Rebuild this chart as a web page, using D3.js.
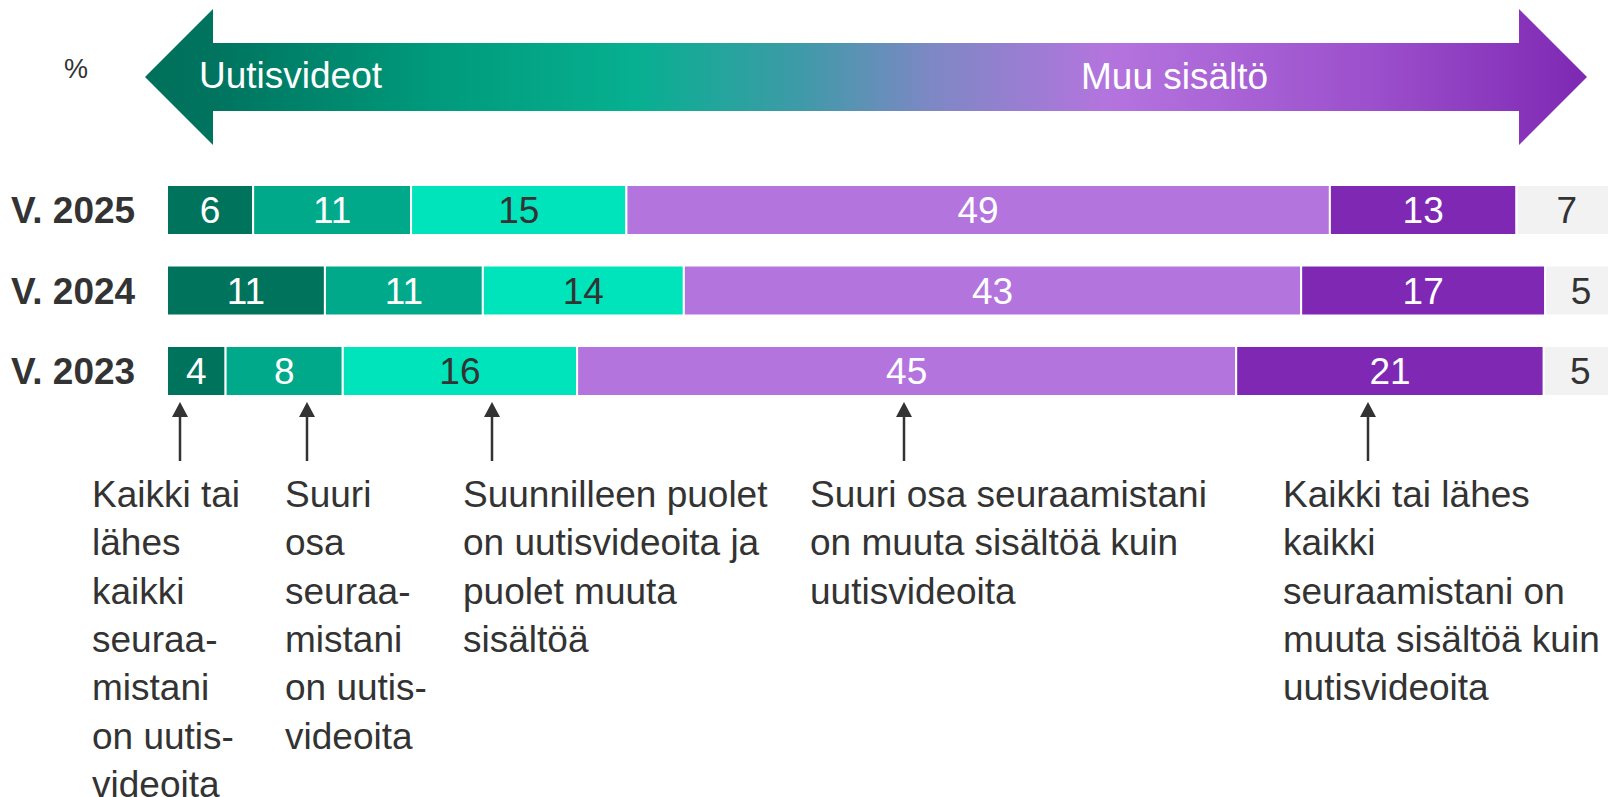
<!DOCTYPE html>
<html lang="fi">
<head>
<meta charset="utf-8">
<title>Uutisvideot vs. muu sisältö</title>
<script src="https://cdn.jsdelivr.net/npm/d3@7"></script>
<style>
  html, body { margin: 0; padding: 0; background: #fff; }
  svg { display: block; font-family: "Liberation Sans", Arial, Helvetica, sans-serif; }
</style>
</head>
<body>
<svg id="chart" width="1608" height="797"></svg>
<script>
// Survey years (rows, top to bottom)
const years = ["V. 2025", "V. 2024", "V. 2023"];

// Answer categories, from "all news videos" to "all other content"
const categories = [
  "Kaikki tai lähes kaikki seuraamistani on uutisvideoita",
  "Suuri osa seuraamistani on uutisvideoita",
  "Suunnilleen puolet on uutisvideoita ja puolet muuta sisältöä",
  "Suuri osa seuraamistani on muuta sisältöä kuin uutisvideoita",
  "Kaikki tai lähes kaikki seuraamistani on muuta sisältöä kuin uutisvideoita",
  "En osaa sanoa"
];

// Shares (%) per category, one value per year in the order of `years`
const allNews     = [6, 11, 4];
const mostlyNews  = [11, 11, 8];
const halfHalf    = [15, 14, 16];
const mostlyOther = [49, 43, 45];
const allOther    = [13, 17, 21];
const cannotSay   = [7, 5, 5];

// Annotation text under the bars, one block per category (line breaks as shown)
const noteLines = [
  ["Kaikki tai", "lähes", "kaikki", "seuraa-", "mistani", "on uutis-", "videoita"],
  ["Suuri", "osa", "seuraa-", "mistani", "on uutis-", "videoita"],
  ["Suunnilleen puolet", "on uutisvideoita ja", "puolet muuta", "sisältöä"],
  ["Suuri osa seuraamistani", "on muuta sisältöä kuin", "uutisvideoita"],
  ["Kaikki tai lähes", "kaikki", "seuraamistani on", "muuta sisältöä kuin", "uutisvideoita"]
];

const arrowLeftLabel = "Uutisvideot";
const arrowRightLabel = "Muu sisältö";
const unitLabel = "%";

// ---- styling / layout ----
const segColors   = ["#00735c", "#00a98a", "#00e4bc", "#b474de", "#7e28b3", "#f2f2f2"];
const labelColors = ["#ffffff", "#ffffff", "#333333", "#ffffff", "#ffffff", "#333333"];
const textDark = "#333333";
const layout = {
  barLeft: 167, barRight: 1617,
  bandTop: 185, bandBottom: 396, bandPad: 0.379,
  noteX:  [92, 285, 463, 810, 1283],
  noteArrowX: [180, 307, 492, 904, 1368],
  noteArrowTop: 402, noteArrowBottom: 461,
  noteBaseline: 507, noteLineHeight: 48.3, noteFont: 37
};

const seriesValues = [allNews, mostlyNews, halfHalf, mostlyOther, allOther, cannotSay];
const rows = years.map((y, i) => {
  const r = { year: y };
  categories.forEach((c, k) => { r[c] = seriesValues[k][i]; });
  return r;
});

const svg = d3.select("#chart");

// ---- header arrow with gradient ----
const defs = svg.append("defs");
const grad = defs.append("linearGradient")
  .attr("id", "dirGrad")
  .attr("gradientUnits", "userSpaceOnUse")
  .attr("x1", 145).attr("y1", 0).attr("x2", 1587).attr("y2", 0);
[
  [0.00, "#00705a"], [0.05, "#00745f"], [0.20, "#009a7c"], [0.34, "#06b090"],
  [0.455, "#3f9aa8"], [0.545, "#7d88c4"], [0.668, "#b474de"], [0.85, "#9c50cc"], [1.00, "#7e28b3"]
].forEach(([o, c]) => grad.append("stop").attr("offset", o).attr("stop-color", c));

const arrowPts = [
  [145, 77], [213, 9], [213, 43], [1519, 43], [1519, 9], [1587, 77],
  [1519, 145], [1519, 111], [213, 111], [213, 145]
];
svg.append("polygon")
  .attr("points", arrowPts.map(p => p.join(",")).join(" "))
  .attr("fill", "url(#dirGrad)");

svg.append("text")
  .attr("x", 199).attr("y", 88)
  .attr("fill", "#fff").attr("font-size", 37)
  .text(arrowLeftLabel);
svg.append("text")
  .attr("x", 1081).attr("y", 89)
  .attr("fill", "#fff").attr("font-size", 37)
  .text(arrowRightLabel);

svg.append("text")
  .attr("x", 64).attr("y", 78)
  .attr("fill", textDark).attr("font-size", 27)
  .text(unitLabel);

// ---- stacked 100% bars ----
const stack = d3.stack().keys(categories).offset(d3.stackOffsetExpand);
const series = stack(rows);

const x = d3.scaleLinear().domain([0, 1]).range([layout.barLeft, layout.barRight]);
const y = d3.scaleBand().domain(years)
  .range([layout.bandTop, layout.bandBottom])
  .paddingInner(layout.bandPad).paddingOuter(0);

const groups = svg.append("g").selectAll("g")
  .data(series)
  .join("g")
  .attr("fill", (d, i) => segColors[i]);

groups.selectAll("rect")
  .data(d => d)
  .join("rect")
  .attr("x", d => x(d[0]))
  .attr("y", d => y(d.data.year))
  .attr("width", d => Math.max(0, x(d[1]) - x(d[0])))
  .attr("height", y.bandwidth())
  .attr("stroke", "#fff")
  .attr("stroke-width", 2);

groups.selectAll("text")
  .data((d, i) => d.map(s => ({ s, i, key: d.key })))
  .join("text")
  .attr("x", d => (x(d.s[0]) + x(d.s[1])) / 2)
  .attr("y", d => y(d.s.data.year) + y.bandwidth() / 2)
  .attr("dy", "0.36em")
  .attr("text-anchor", "middle")
  .attr("font-size", 37)
  .attr("fill", d => labelColors[d.i])
  .text(d => d.s.data[d.key]);

// Year labels
svg.append("g").selectAll("text")
  .data(years)
  .join("text")
  .attr("x", 11)
  .attr("y", d => y(d) + y.bandwidth() / 2)
  .attr("dy", "0.36em")
  .attr("font-size", 37)
  .attr("font-weight", "bold")
  .attr("fill", textDark)
  .text(d => d);

// ---- category notes with pointer arrows ----
const notes = svg.append("g");
noteLines.forEach((lines, k) => {
  const ax = layout.noteArrowX[k];
  notes.append("line")
    .attr("x1", ax).attr("x2", ax)
    .attr("y1", layout.noteArrowBottom).attr("y2", layout.noteArrowTop + 14)
    .attr("stroke", textDark).attr("stroke-width", 2.5);
  notes.append("path")
    .attr("d", `M${ax - 8},${layout.noteArrowTop + 15} L${ax},${layout.noteArrowTop} L${ax + 8},${layout.noteArrowTop + 15} Z`)
    .attr("fill", textDark);
  const t = notes.append("text")
    .attr("x", layout.noteX[k])
    .attr("y", layout.noteBaseline)
    .attr("font-size", layout.noteFont)
    .attr("fill", textDark);
  lines.forEach((ln, j) => {
    t.append("tspan")
      .attr("x", layout.noteX[k])
      .attr("y", layout.noteBaseline + j * layout.noteLineHeight)
      .text(ln);
  });
});
</script>
</body>
</html>
